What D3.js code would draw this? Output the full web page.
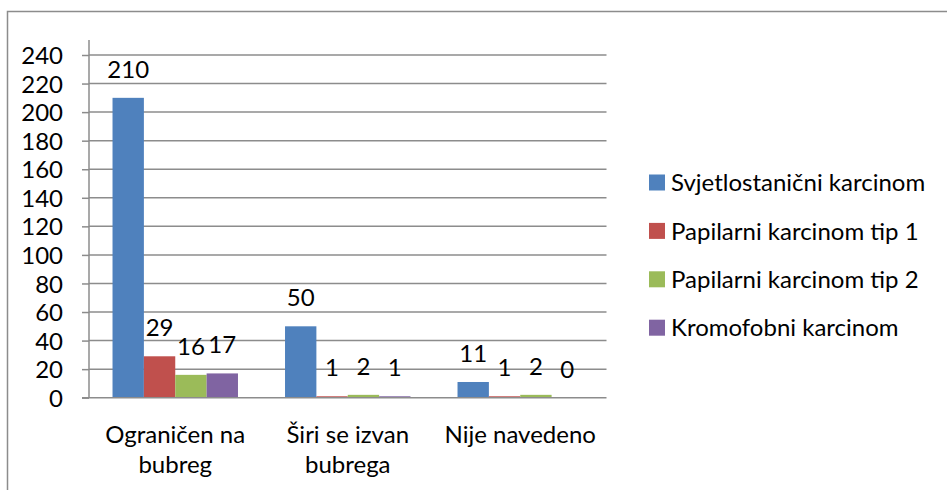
<html>
<head>
  <meta charset="utf-8">
  <script src="https://d3js.org/d3.v7.min.js"></script>
  <style>
    body { margin: 0; background: #fff; }
  </style>
</head>
<body>
<script>

// chart data
let categories = ["Ograničen na bubreg", "Širi se izvan bubrega", "Nije navedeno"];
let tickLines = [["Ograničen na", "bubreg"], ["Širi se izvan", "bubrega"], ["Nije navedeno"]];
let seriesNames = ["Svjetlostanični karcinom", "Papilarni karcinom tip 1", "Papilarni karcinom tip 2", "Kromofobni karcinom"];
let svjetlostanicni = [210, 50, 11];
let papilarni1 = [29, 1, 1];
let papilarni2 = [16, 2, 2];
let kromofobni = [17, 1, 0];
let yTicks = [0, 20, 40, 60, 80, 100, 120, 140, 160, 180, 200, 220, 240];
let colors = ["#4F81BD", "#C0504D", "#9BBB59", "#8064A2"];

let allSeries = [svjetlostanicni, papilarni1, papilarni2, kromofobni];

let canvasW = 947;
let canvasH = 490;
let font = "Lato, 'Open Sans', sans-serif";
let fs = "24px";

let plotL = 89, plotR = 606.5, plotT = 55, plotB = 397.7;

let svg = d3.select("body").append("svg")
  .attr("width", canvasW)
  .attr("height", canvasH);

// outer chart border (runs past right/bottom edge)
svg.append("rect")
  .attr("x", 7.5).attr("y", 11.5)
  .attr("width", 1000).attr("height", 1000)
  .attr("fill", "white")
  .attr("stroke", "#8c8c8c")
  .attr("stroke-width", 1.5);

let y = d3.scaleLinear().domain([0, 240]).range([plotB, plotT]);
let x0 = d3.scaleBand().domain(categories).range([plotL, plotR]).paddingInner(0).paddingOuter(0);
// gap width 150% -> bars take 4 / 5.5 of category
let x1 = d3.scaleBand().domain(d3.range(seriesNames.length))
  .range([0, x0.bandwidth()])
  .paddingInner(0)
  .paddingOuter(0.75);

// gridlines
svg.append("g").selectAll("line")
  .data(yTicks.filter(d => d > 0))
  .enter().append("line")
  .attr("x1", plotL).attr("x2", plotR)
  .attr("y1", d => y(d)).attr("y2", d => y(d))
  .attr("stroke", "#8c8c8c")
  .attr("stroke-width", 1.5);

// y axis
let yAxis = svg.append("g")
  .attr("transform", "translate(" + plotL + ",0)")
  .call(d3.axisLeft(y).tickValues(yTicks).tickSize(7).tickPadding(19));
yAxis.select(".domain").attr("stroke", "#8c8c8c").attr("stroke-width", 1.5)
  .attr("d", "M0," + (plotT - 15) + "V" + plotB);
yAxis.selectAll(".tick line").attr("stroke", "#8c8c8c").attr("stroke-width", 1.5);
yAxis.selectAll(".tick text")
  .attr("font-family", font)
  .attr("font-size", fs)
  .attr("fill", "#000")
  .attr("dy", "0.36em");

// bars
let groups = svg.append("g").selectAll("g")
  .data(categories)
  .enter().append("g")
  .attr("transform", d => "translate(" + x0(d) + ",0)");

groups.selectAll("rect")
  .data((c, ci) => allSeries.map((s, si) => ({ si: si, v: s[ci] })))
  .enter().append("rect")
  .attr("x", d => x1(d.si))
  .attr("width", x1.bandwidth())
  .attr("y", d => y(d.v))
  .attr("height", d => plotB - y(d.v))
  .attr("fill", d => colors[d.si]);

// x axis line
svg.append("line")
  .attr("x1", plotL - 7).attr("x2", plotR)
  .attr("y1", plotB).attr("y2", plotB)
  .attr("stroke", "#8c8c8c")
  .attr("stroke-width", 1.5);

// data labels
groups.selectAll("text")
  .data((c, ci) => allSeries.map((s, si) => ({ si: si, v: s[ci] })))
  .enter().append("text")
  .attr("x", d => x1(d.si) + x1.bandwidth() / 2)
  .attr("y", d => y(d.v) - 20)
  .attr("text-anchor", "middle")
  .attr("font-family", font)
  .attr("font-size", fs)
  .attr("fill", "#000")
  .text(d => d.v);

// category labels
let catText = svg.append("g").selectAll("text")
  .data(categories)
  .enter().append("text")
  .attr("x", d => x0(d) + x0.bandwidth() / 2)
  .attr("y", 443)
  .attr("text-anchor", "middle")
  .attr("font-family", font)
  .attr("font-size", fs)
  .attr("fill", "#000");

catText.selectAll("tspan")
  .data((d, i) => tickLines[i])
  .enter().append("tspan")
  .attr("x", function() { return d3.select(this.parentNode).attr("x"); })
  .attr("dy", (d, i) => i === 0 ? 0 : 30)
  .text(d => d);

// legend
let legend = svg.append("g").selectAll("g")
  .data(seriesNames)
  .enter().append("g")
  .attr("transform", (d, i) => "translate(649," + (182.5 + i * 48.4) + ")");

legend.append("rect")
  .attr("x", 0).attr("y", -8)
  .attr("width", 16).attr("height", 16)
  .attr("fill", (d, i) => colors[i]);

legend.append("text")
  .attr("x", 22)
  .attr("y", 0)
  .attr("dy", "0.36em")
  .attr("font-family", font)
  .attr("font-size", fs)
  .attr("fill", "#000")
  .text(d => d);

</script>
</body>
</html>
